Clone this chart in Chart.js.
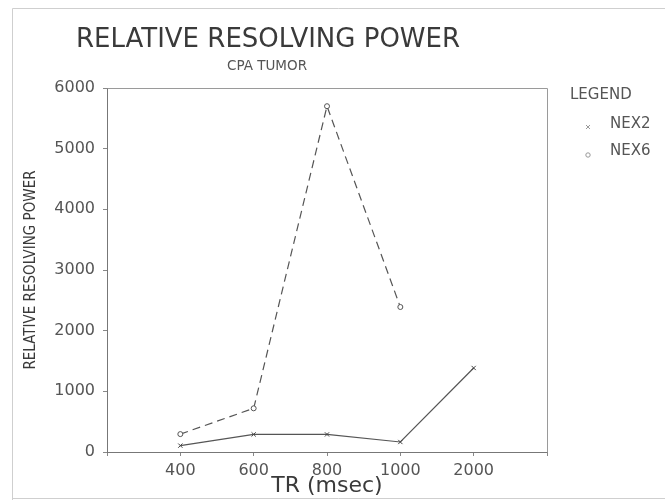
<!DOCTYPE html>
<html>
<head>
<meta charset="utf-8">
<script src="https://cdn.jsdelivr.net/npm/chart.js@4"></script>
<style>
html,body{margin:0;padding:0;background:#fff;}
#c{display:block;}
</style>
</head>
<body>
<canvas id="c" width="665" height="500"></canvas>
<script>
const categories = ['400', '600', '800', '1000', '2000'];
const nex2 = [105, 290, 290, 165, 1385];
const nex6 = [295, 720, 5700, 2390, null];
const yTicks = [0, 1000, 2000, 3000, 4000, 5000, 6000];
const seriesNames = ['NEX2', 'NEX6'];
const titleText = 'RELATIVE RESOLVING POWER';
const subtitleText = 'CPA TUMOR';
const xTitle = 'TR (msec)';
const yTitle = 'RELATIVE RESOLVING POWER';

const labels = [''].concat(categories, ['']);
const pad = arr => [null].concat(arr, [null]);

const decor = {
  id: 'decor',
  beforeDraw(chart) {
    const ctx = chart.ctx;
    ctx.save();
    ctx.fillStyle = '#fff';
    ctx.fillRect(0, 0, chart.width, chart.height);
    ctx.strokeStyle = '#cfcfcf';
    ctx.lineWidth = 1;
    ctx.beginPath();
    ctx.moveTo(12.5, 500); ctx.lineTo(12.5, 8.5); ctx.lineTo(665, 8.5);
    ctx.moveTo(12, 498.5); ctx.lineTo(665, 498.5);
    ctx.stroke();
    ctx.restore();
  },
  afterDraw(chart) {
    const ctx = chart.ctx;
    const a = chart.chartArea;
    ctx.save();
    ctx.strokeStyle = '#9a9a9a';
    ctx.lineWidth = 1;
    ctx.beginPath();
    ctx.moveTo(Math.round(a.left) + 0.5, Math.round(a.top) + 0.5);
    ctx.lineTo(Math.round(a.right) + 0.5, Math.round(a.top) + 0.5);
    ctx.lineTo(Math.round(a.right) + 0.5, Math.round(a.bottom) + 0.5);
    ctx.stroke();
    // titles
    ctx.fillStyle = '#3a3a3a';
    ctx.textAlign = 'center';
    ctx.textBaseline = 'middle';
    ctx.font = '26px "DejaVu Sans"';
    ctx.fillText(titleText, 268, 40);
    ctx.fillStyle = '#555';
    ctx.font = '13.5px "DejaVu Sans"';
    ctx.fillText(subtitleText, 267, 66);
    // legend
    ctx.textAlign = 'left';
    ctx.font = '15px "DejaVu Sans"';
    ctx.fillStyle = '#555';
    ctx.fillText('LEGEND', 570, 95);
    ctx.fillText(seriesNames[0], 610, 124);
    ctx.fillText(seriesNames[1], 610, 151);
    ctx.strokeStyle = '#999';
    ctx.beginPath();
    ctx.moveTo(586, 125); ctx.lineTo(590, 129);
    ctx.moveTo(590, 125); ctx.lineTo(586, 129);
    ctx.stroke();
    ctx.beginPath();
    ctx.arc(588, 155, 2.2, 0, Math.PI * 2);
    ctx.stroke();
    ctx.restore();
  }
};

new Chart(document.getElementById('c'), {
  type: 'line',
  data: {
    labels: labels,
    datasets: [
      {
        label: seriesNames[0],
        data: pad(nex2),
        borderColor: '#555',
        borderWidth: 1.2,
        pointStyle: 'crossRot',
        pointRadius: 3,
        pointBorderColor: '#444',
        pointBorderWidth: 1,
        tension: 0,
        fill: false
      },
      {
        label: seriesNames[1],
        data: pad(nex6),
        borderColor: '#555',
        borderWidth: 1.2,
        borderDash: [8, 5],
        pointStyle: 'circle',
        pointRadius: 2.5,
        pointBackgroundColor: '#fff',
        pointBorderColor: '#555',
        pointBorderWidth: 1,
        tension: 0,
        fill: false
      }
    ]
  },
  options: {
    responsive: false,
    devicePixelRatio: 1,
    animation: false,
    layout: { padding: { left: 0, top: 88, right: 118, bottom: 0 } },
    plugins: {
      legend: { display: false },
      title: { display: false },
      tooltip: { enabled: false }
    },
    scales: {
      x: {
        type: 'category',
        offset: false,
        grid: { display: true, drawOnChartArea: false, tickLength: 4, color: '#888' },
        border: { display: true, color: '#777', width: 1 },
        ticks: {
          autoSkip: false, maxRotation: 0, padding: 5,
          color: '#555', font: { family: 'DejaVu Sans', size: 16 }
        },
        title: {
          display: true, text: xTitle, color: '#3a3a3a',
          font: { family: 'DejaVu Sans', size: 22 },
          padding: { top: 0, bottom: 1 }
        },
        afterFit(s) { s.height = 48; }
      },
      y: {
        min: 0, max: 6000,
        afterBuildTicks(s) { s.ticks = yTicks.map(v => ({ value: v })); },
        grid: { display: true, drawOnChartArea: false, tickLength: 4, color: '#888' },
        border: { display: true, color: '#777', width: 1 },
        ticks: {
          padding: 8, color: '#555',
          font: { family: 'DejaVu Sans', size: 16 },
          callback: v => String(v)
        },
        title: {
          display: true, text: yTitle, color: '#3a3a3a',
          font: { family: '"Liberation Sans Narrow", "DejaVu Sans Condensed", "Liberation Sans"', size: 15 },
          padding: { top: 22, bottom: 0 }
        },
        afterFit(s) { s.width = 107; }
      }
    }
  },
  plugins: [decor]
});
</script>
</body>
</html>
